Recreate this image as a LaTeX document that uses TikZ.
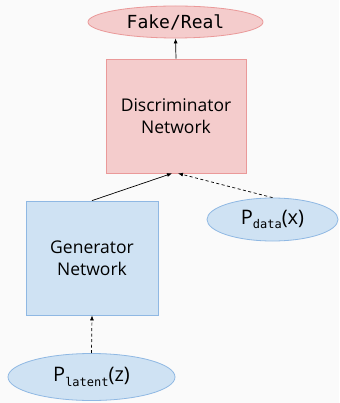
\documentclass[tikz,border=0pt]{standalone}
\usepackage{fontspec}
\setmainfont{Open Sans}
\setmonofont{DejaVu Sans Mono}
\usetikzlibrary{shapes.geometric,arrows.meta}
\definecolor{pinkfill}{HTML}{F4CCCC}
\definecolor{pinkdraw}{HTML}{EA9999}
\definecolor{bluefill}{HTML}{CFE2F3}
\definecolor{bluedraw}{HTML}{8FB8E3}
\definecolor{bg}{HTML}{FAFAFA}
\newcommand{\distsub}[1]{\raisebox{-4.5pt}{\fontsize{12}{13}\selectfont\ttfamily #1}}
\begin{document}
\begin{tikzpicture}[x=1pt,y=-1pt,
  netbox/.style={draw, line width=0.8pt, inner sep=0pt, align=center, font=\fontsize{17.5}{22}\selectfont},
  dist/.style={ellipse, draw, line width=0.8pt, inner sep=0pt},
  conn/.style={-{Latex[length=5pt,width=4pt]}, line width=0.7pt},
  dconn/.style={conn, dashed, dash pattern=on 3pt off 2.5pt}]
\fill[bg] (0,0) rectangle (339,403);
\useasboundingbox (0,0) rectangle (339,403);
\node[dist, fill=pinkfill, draw=pinkdraw, minimum width=175pt, minimum height=32pt] (out) at (175.5,22) {\fontsize{18}{20}\selectfont\ttfamily Fake/Real};
\node[netbox, fill=pinkfill, draw=pinkdraw, minimum width=140pt, minimum height=114pt] (disc) at (176,116) {Discriminator\\Network};
\node[netbox, fill=bluefill, draw=bluedraw, minimum width=132pt, minimum height=114pt] (gen) at (92,258) {Generator\\Network};
\node[dist, fill=bluefill, draw=bluedraw, minimum width=131pt, minimum height=43pt] (pdata) at (272.5,219.5) {\fontsize{20}{22}\selectfont P\distsub{data}(x)};
\node[dist, fill=bluefill, draw=bluedraw, minimum width=167pt, minimum height=47pt] (plat) at (91.5,377) {\fontsize{20}{22}\selectfont P\distsub{latent}(z)};
\coordinate (din1) at ([xshift=-4pt]disc.south);
\coordinate (din2) at ([xshift=2pt]disc.south);
\draw[conn] (disc.north) -- (out.south);
\draw[conn] (gen.north) -- (din1);
\draw[dconn] (pdata.north) -- (din2);
\draw[dconn] (plat.north) -- (gen.south);
\end{tikzpicture}
\end{document}
